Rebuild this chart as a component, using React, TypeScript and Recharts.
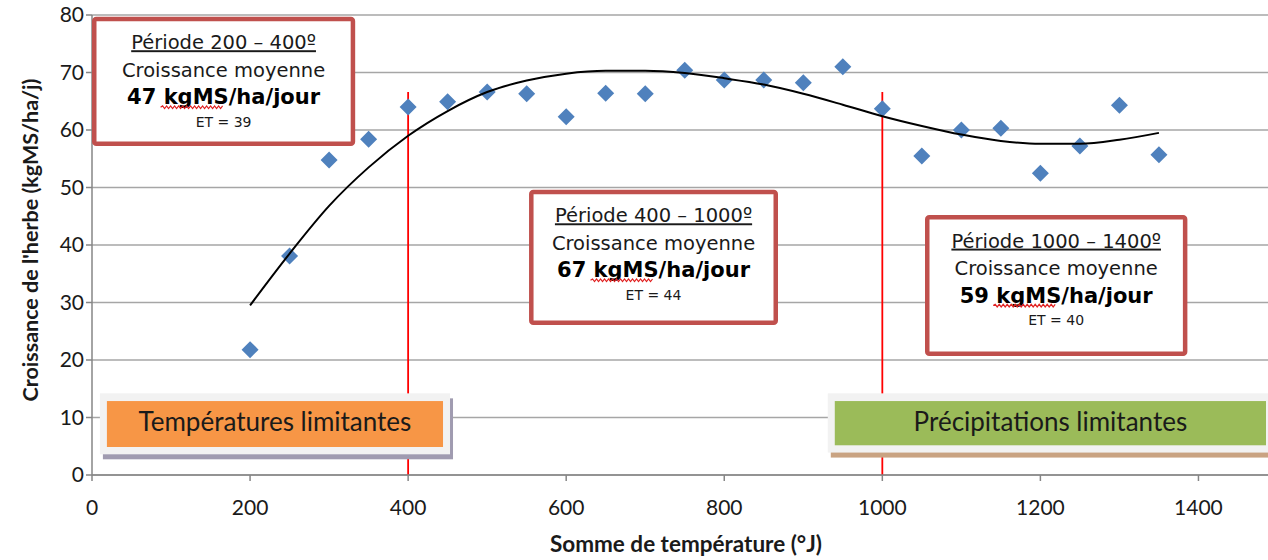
import {
  CartesianGrid,
  ComposedChart,
  Line,
  ReferenceArea,
  ReferenceLine,
  Scatter,
  XAxis,
  YAxis,
} from "recharts";

// sommes de température (°J) et croissance mesurée
const temps = [
  200, 250, 300, 350, 400, 450, 500, 550, 600, 650, 700, 750, 800, 850, 900,
  950, 1000, 1050, 1100, 1150, 1200, 1250, 1300, 1350,
];
const growth = [
  21.8, 38.1, 54.8, 58.4, 64.0, 64.9, 66.6, 66.3, 62.3, 66.4, 66.3, 70.4, 68.7,
  68.7, 68.2, 71.0, 63.7, 55.5, 60.0, 60.3, 52.5, 57.2, 64.3, 55.7,
];
// courbe de tendance
const trend = [
  29.5, 38.5, 46.8, 53.5, 59.0, 63.3, 66.6, 68.6, 69.8, 70.3, 70.3, 69.9, 69.0,
  67.9, 66.3, 64.4, 62.4, 60.7, 59.2, 58.1, 57.6, 57.6, 58.3, 59.5,
];

const xTicks = [0, 200, 400, 600, 800, 1000, 1200, 1400];
const yTicks = [0, 10, 20, 30, 40, 50, 60, 70, 80];
const limits = [400, 1000];

const periods = ["Période 200 – 400º", "Période 400 – 1000º", "Période 1000 – 1400º"];
const means = ["47", "67", "59"];
const ets = ["ET = 39", "ET = 44", "ET = 40"];

const points = temps.map((x, i) => ({ x, y: growth[i] }));
const trendPoints = temps.map((x, i) => ({ x, y: trend[i] }));

const boxFont = "'DejaVu Sans', Verdana, sans-serif";
const txt = "#1a1a1a";

function wavy(x0: number, x1: number, y: number) {
  let d = `M${x0},${y}`;
  let up = true;
  for (let x = x0 + 2; x <= x1; x += 2) {
    d += ` L${x},${y + (up ? -1.3 : 1.3)}`;
    up = !up;
  }
  return d;
}

const Diamond = (props: any) => {
  const { cx, cy } = props;
  const r = 8.5;
  return (
    <polygon
      points={`${cx},${cy - r} ${cx + r},${cy} ${cx},${cy + r} ${cx - r},${cy}`}
      fill="#4f81bd"
    />
  );
};

const PeriodBox = (props: any) => {
  const { x, y, width, height, idx } = props;
  const cx = x + width / 2;
  return (
    <g>
      <rect
        x={x + 2.25}
        y={y + 2.25}
        width={width - 4.5}
        height={height - 4.5}
        rx={2}
        fill="#fff"
        stroke="#c0504d"
        strokeWidth={4.5}
      />
      <text
        x={cx}
        y={y + 32.5}
        textAnchor="middle"
        fontFamily={boxFont}
        fontSize={19.5}
        fill={txt}
        textDecoration="underline"
      >
        {periods[idx]}
      </text>
      <text x={cx} y={y + 60} textAnchor="middle" fontFamily={boxFont} fontSize={19.5} fill={txt}>
        Croissance moyenne
      </text>
      <text
        x={cx}
        y={y + 87.5}
        textAnchor="middle"
        fontFamily={boxFont}
        fontSize={21}
        fontWeight="bold"
        fill="#000"
      >
        {means[idx] + " kgMS/ha/jour"}
      </text>
      <path d={wavy(cx - 63, cx - 1, y + 90.5)} stroke="#e02020" strokeWidth={1.2} fill="none" />
      <text x={cx} y={y + 110} textAnchor="middle" fontFamily={boxFont} fontSize={14} fill={txt}>
        {ets[idx]}
      </text>
    </g>
  );
};

const LimitLabel = (props: any) => {
  const { x, y, width, height, fill, shadow, text, rightInset } = props;
  const ix = x + 7;
  const iw = width - 7 - rightInset;
  return (
    <g>
      <rect x={x + 3} y={y + 5} width={width} height={height} fill={shadow} />
      <rect x={x} y={y} width={width} height={height} fill="#f2f2f2" />
      <rect x={ix} y={y + 7.7} width={iw} height={height - 15} fill={fill} />
      <text
        x={ix + iw / 2}
        y={y + 38}
        textAnchor="middle"
        fontFamily="Lato, sans-serif"
        fontSize={26}
        fill={txt}
      >
        {text}
      </text>
    </g>
  );
};

const titleStyle = {
  fontFamily: "Lato, sans-serif",
  fontWeight: "bold",
  fill: txt,
};

export default function App() {
  return (
    <div>
      <style>{"body{margin:0;overflow:hidden}"}</style>
      <ComposedChart
        width={1268}
        height={560}
        margin={{ top: 15, right: 0, left: 0, bottom: 0 }}
      >
        <CartesianGrid vertical={false} stroke="#a6a6a6" strokeWidth={1.5} />
        <XAxis
          type="number"
          dataKey="x"
          domain={[0, 1488]}
          ticks={xTicks}
          height={85}
          tickSize={6}
          tickMargin={19}
          stroke="#868686"
          strokeWidth={1.5}
          tick={{ fontFamily: "Lato, sans-serif", fontSize: 21, fill: txt }}
          label={{
            value: "Somme de température (°J)",
            position: "insideBottom",
            offset: 8,
            dx: 6,
            style: { ...titleStyle, fontSize: 22.5 },
          }}
        />
        <YAxis
          type="number"
          dataKey="y"
          domain={[0, 80]}
          ticks={yTicks}
          width={92}
          tickSize={6}
          tickMargin={2}
          stroke="#868686"
          strokeWidth={1.5}
          tick={{ fontFamily: "Lato, sans-serif", fontSize: 21, fill: txt }}
          label={{
            value: "Croissance de l'herbe (kgMS/ha/j)",
            angle: -90,
            position: "insideLeft",
            offset: 30,
            dy: -5,
            style: { ...titleStyle, textAnchor: "middle", fontSize: 21.5 },
          }}
        />
        {limits.map((t) => (
          <ReferenceLine
            key={t}
            segment={[
              { x: t, y: 0 },
              { x: t, y: 66.6 },
            ]}
            stroke="#ff0000"
            strokeWidth={1.8}
          />
        ))}
        <Scatter
          data={points}
          dataKey="y"
          shape={<Diamond />}
          fill="#4f81bd"
          isAnimationActive={false}
        />
        <Line
          data={trendPoints}
          dataKey="y"
          type="monotone"
          stroke="#000"
          strokeWidth={2}
          dot={false}
          activeDot={false}
          isAnimationActive={false}
          zIndex={700}
        />
        <ReferenceArea
          x1={0}
          x2={333}
          y1={57.2}
          y2={79.7}
          ifOverflow="visible"
          zIndex={800}
          shape={(p: any) => <PeriodBox {...p} idx={0} />}
        />
        <ReferenceArea
          x1={553}
          x2={868}
          y1={26.1}
          y2={49.6}
          ifOverflow="visible"
          zIndex={800}
          shape={(p: any) => <PeriodBox {...p} idx={1} />}
        />
        <ReferenceArea
          x1={1054}
          x2={1386}
          y1={20.7}
          y2={45.2}
          ifOverflow="visible"
          zIndex={800}
          shape={(p: any) => <PeriodBox {...p} idx={2} />}
        />
        <ReferenceArea
          x1={10}
          x2={453}
          y1={3.6}
          y2={14.2}
          ifOverflow="visible"
          zIndex={800}
          shape={(p: any) => (
            <LimitLabel
              {...p}
              fill="#f79646"
              shadow="#a09bb0"
              rightInset={7}
              text="Températures limitantes"
            />
          )}
        />
        <ReferenceArea
          x1={931}
          x2={1488}
          y1={3.9}
          y2={14.2}
          ifOverflow="visible"
          zIndex={800}
          shape={(p: any) => (
            <LimitLabel
              {...p}
              fill="#9bbb59"
              shadow="#c9a382"
              rightInset={2}
              text="Précipitations limitantes"
            />
          )}
        />
      </ComposedChart>
    </div>
  );
}
